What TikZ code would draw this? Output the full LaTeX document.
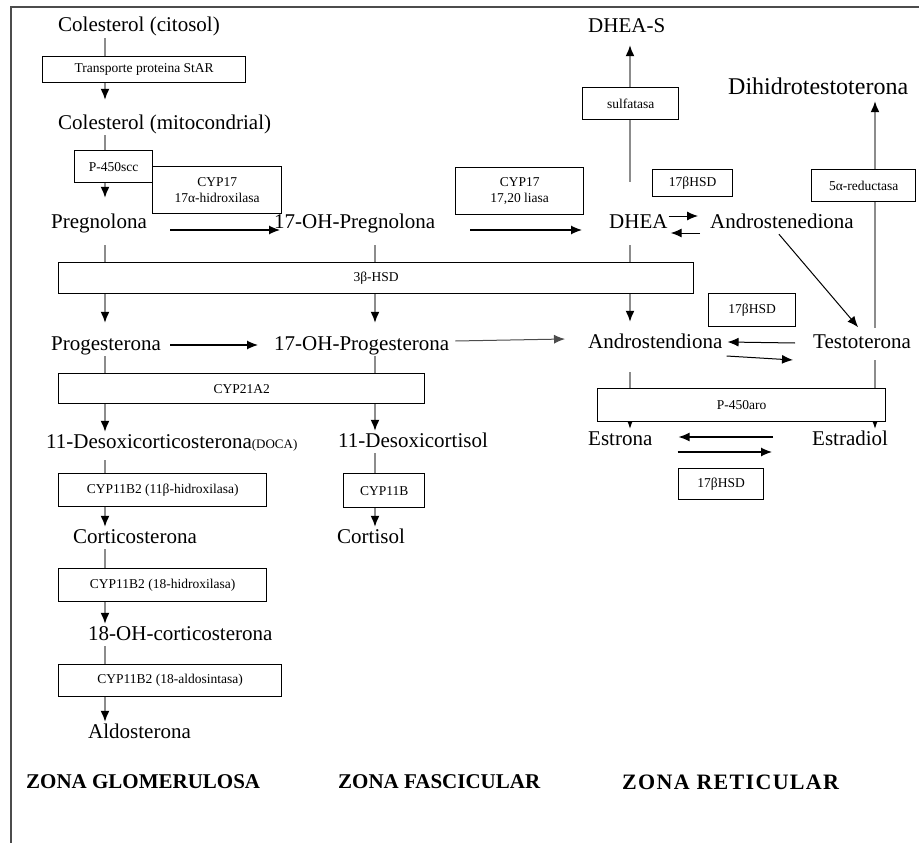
\documentclass[tikz,border=0pt]{standalone}
\usepackage{fontspec}
\setmainfont{Liberation Serif}
\usetikzlibrary{arrows.meta,backgrounds}

\begin{document}
\begin{tikzpicture}[x=1pt,y=-1pt]
\tikzstyle{compuesto} = [font=\fontsize{21}{24}\selectfont, inner sep=1pt,
text height=15pt, text depth=5pt, anchor=west]
\tikzstyle{zona} = [font=\bfseries\fontsize{21}{24}\selectfont, inner sep=1pt, anchor=west]
\tikzstyle{enzima} = [rectangle, draw=black, line width=1.3pt, fill=white,
anchor=north west, inner sep=1pt, align=center, font=\fontsize{13.5}{15.5}\selectfont]
\tikzstyle{via} = [draw=black!45, line width=1.6pt, -{Latex[color=black,length=11pt,width=9pt]}]
\tikzstyle{reaccion} = [draw=black, line width=1.2pt, -{Latex[length=11pt,width=9pt]}];

\useasboundingbox (0,0) rectangle (919,843);
\draw[black!70, line width=1.5pt] (919,7) -- (11,7) -- (11,843);

% columnas
\coordinate (c1) at (105,0);
\coordinate (c2) at (375,0);
\coordinate (c3) at (630,0);
\coordinate (c4) at (875,0);

% zona glomerulosa
\node [compuesto] (colcit) at (57,27) {Colesterol (citosol)};
\node [compuesto] (colmit) at (57,124) {Colesterol (mitocondrial)};
\node [compuesto] (preg) at (50,223) {Pregnolona};
\node [compuesto] (prog) at (50,345) {Progesterona};
\node [compuesto] (doca) at (45,443) {11-Desoxicorticosterona{\fontsize{13}{15}\selectfont(DOCA)}};
\node [compuesto] (cortico) at (72,538) {Corticosterona};
\node [compuesto] (ohcort) at (87,635) {18-OH-corticosterona};
\node [compuesto] (aldo) at (87,733) {Aldosterona};
% zona fascicular
\node [compuesto] (ohpreg) at (273,223) {17-OH-Pregnolona};
\node [compuesto] (ohprog) at (273,345) {17-OH-Progesterona};
\node [compuesto] (desox) at (337,442) {11-Desoxicortisol};
\node [compuesto] (cortisol) at (336,538) {Cortisol};
% zona reticular
\node [compuesto] (dheas) at (587,28) {DHEA-S};
\node [compuesto, font=\fontsize{24}{27}\selectfont] (dht) at (727,90) {Dihidrotestoterona};
\node [compuesto] (dhea) at (608,223) {DHEA};
\node [compuesto] (androsten) at (709,223) {Androstenediona};
\node [compuesto] (andro) at (587,343) {Androstendiona};
\node [compuesto] (testo) at (812,343) {Testoterona};
\node [compuesto] (estrona) at (587,440) {Estrona};
\node [compuesto] (estradiol) at (811,440) {Estradiol};

\node [zona] (zonag) at (25,782) {ZONA GLOMERULOSA};
\node [zona] (zonaf) at (337,782) {ZONA FASCICULAR};
\node [zona, font=\bfseries\fontsize{22}{25}\selectfont\addfontfeature{LetterSpace=6}] (zonar) at (621,782) {ZONA RETICULAR};

% enzimas
\node [enzima, minimum width=203, minimum height=26] (star) at (42,56) {Transporte proteina StAR};
\node [enzima, minimum width=78, minimum height=32] (scc) at (74,150) {P-450scc};
\node [enzima, minimum width=129, minimum height=47] (hidrox) at (152,166) {CYP17\\17α-hidroxilasa};
\node [enzima, minimum width=128, minimum height=47] (liasa) at (455,167) {CYP17\\17,20 liasa};
\node [enzima, minimum width=96, minimum height=32] (sulf) at (582,87) {sulfatasa};
\node [enzima, minimum width=80, minimum height=27] (hsda) at (652,169) {17βHSD};
\node [enzima, minimum width=104, minimum height=32] (reduc) at (811,169) {5α-reductasa};
\node [enzima, minimum width=635, minimum height=31] (hsdtres) at (58,262) {3β-HSD};
\node [enzima, minimum width=87, minimum height=33] (hsdb) at (708,293) {17βHSD};
\node [enzima, minimum width=366, minimum height=30] (cyp21) at (58,373) {CYP21A2};
\node [enzima, minimum width=288, minimum height=33] (aro) at (597,388) {P-450aro};
\node [enzima, minimum width=85, minimum height=31] (hsdc) at (678,468) {17βHSD};
\node [enzima, minimum width=81, minimum height=34] (cypb) at (343,473) {CYP11B};
\node [enzima, minimum width=208, minimum height=33] (bdosa) at (58,473) {CYP11B2 (11β-hidroxilasa)};
\node [enzima, minimum width=208, minimum height=33] (bdosb) at (58,568) {CYP11B2 (18-hidroxilasa)};
\node [enzima, minimum width=223, minimum height=32] (bdosc) at (58,664) {CYP11B2 (18-aldosintasa)};

\begin{scope}[on background layer]
% vias verticales
\path [via, shorten >=13pt] (colcit.south -| c1) -- (colmit.north -| c1);
\path [via, shorten >=14pt] (colmit.south -| c1) -- (preg.north -| c1);
\path [via, shorten <=11pt, shorten >=11pt] (preg.south -| c1) -- (prog.north -| c1);
\path [via, shorten <=11pt, shorten >=11pt] (ohpreg.south -| c2) -- (ohprog.north -| c2);
\path [via] (prog.south -| c1) -- (doca.north -| c1);
\path [via] (ohprog.south -| c2) -- (desox.north -| c2);
\path [via, shorten <=6pt] (doca.south -| c1) -- (cortico.north -| c1);
\path [via] (desox.south -| c2) -- (cortisol.north -| c2);
\path [via] (cortico.south -| c1) -- (ohcort.north -| c1);
\path [via] (ohcort.south -| c1) -- (aldo.north -| c1);
\path [via, shorten <=11pt, shorten >=10pt] (dhea.south -| c3) -- (andro.north -| c3);
\path [via, shorten <=30pt, shorten >=6pt] (dhea.north -| c3) -- (dheas.south -| c3);
\path [via, shorten <=4pt] (testo.north -| c4) -- (dht.south -| c4);
\path [via, shorten <=18pt] (andro.south -| c3) -- (estrona.north -| c3);
\path [via, shorten <=6pt] (testo.south -| c4) -- (estradiol.north -| c4);
\end{scope}

% reacciones
\path [reaccion] ([shift={(22,7)}]preg.east) -- ([shift={(7,7)}]ohpreg.west);
\path [reaccion] ([shift={(34,7)}]ohpreg.east) -- ([shift={(-26,7)}]dhea.west);
\path [reaccion] ([shift={(8,0)}]prog.east) -- ([shift={(-15,0)}]ohprog.west);
\path [reaccion, draw=black!70, line width=1pt] ([shift={(5,-4)}]ohprog.east) -- ([shift={(-22,-4)}]andro.west);
\path [reaccion, line width=1pt] ([shift={(0,-7)}]dhea.east) -- ([shift={(-11,-7)}]androsten.west);
\path [reaccion, line width=1pt] ([shift={(-9,10)}]androsten.west) -- ([shift={(2,10)}]dhea.east);
\path [reaccion, line width=1pt, shorten >=6pt] ([xshift=-3pt]androsten.south) -- (testo.north);
\path [reaccion, line width=1pt] ([shift={(-17,0)}]testo.west) -- ([shift={(4,-1)}]andro.east);
\path [reaccion, line width=1pt] ([shift={(3,13)}]andro.east) -- ([shift={(-19,17)}]testo.west);
\path [reaccion] ([shift={(-38,-3)}]estradiol.west) -- ([shift={(25,-3)}]estrona.east);
\path [reaccion] ([shift={(24,12)}]estrona.east) -- ([shift={(-39,12)}]estradiol.west);
\end{tikzpicture}
\end{document}
